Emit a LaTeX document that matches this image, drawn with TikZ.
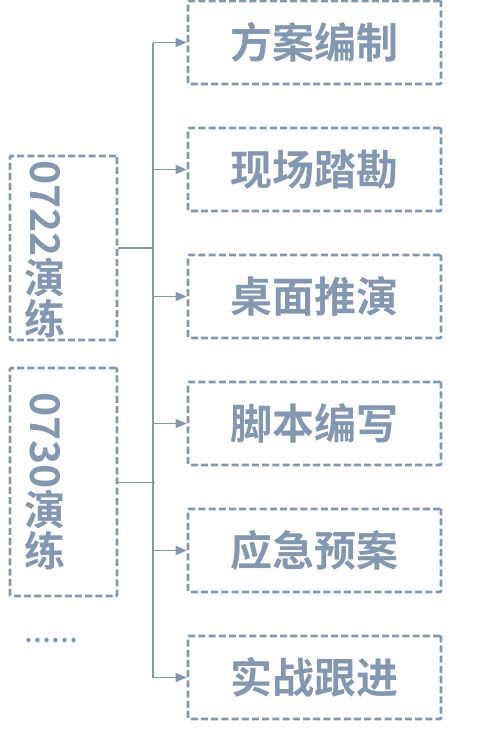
\documentclass[tikz,border=0pt]{standalone}
\usepackage{fontspec}
\newfontfamily\cjk{Noto Sans CJK SC}[BoldFont={Noto Sans CJK SC Bold}]
\usetikzlibrary{arrows.meta}
\definecolor{slate}{HTML}{8497B0}
\tikzset{
  dashbox/.style={draw=slate, line width=2.6pt, dash pattern=on 7pt off 3.2pt,
    rounded corners=1pt, inner sep=0pt},
  taskbox/.style={dashbox, minimum width=253pt, minimum height=83pt,
    text=slate, font=\cjk\bfseries\fontsize{42}{42}\selectfont},
  drillbox/.style={dashbox, minimum width=107pt},
  drilltext/.style={text=slate, align=center, inner sep=0pt,
    font=\cjk\bfseries\fontsize{41}{41}\selectfont},
  link/.style={draw=slate, line width=1.4pt},
  arrow/.style={link, -{Triangle[length=11pt,width=9pt]}}
}
\begin{document}
\begin{tikzpicture}[x=1pt,y=-1pt]
  \useasboundingbox (0,0) rectangle (489,732);
  % tasks on the right
  \foreach \name/\txt [count=\i] in {plan/方案编制, survey/现场踏勘,
      tabletop/桌面推演, script/脚本编写, emergency/应急预案, follow/实战跟进} {
    \node[taskbox] (\name) at (314.5,{42.5+127*(\i-1)}) {\txt};
    \coordinate (j\i) at (153,{42.5+127*(\i-1)});
    \draw[arrow] (j\i) -- (\name.west);
  }
  \draw[link] (j1) -- (j6);
  % drills on the left
  \node[drillbox, minimum height=184pt] (d0722) at (63.5,248) {};
  \node[drilltext] (t0722) at (45,249) {\rotatebox{-90}{0722}\\演\\练};
  \node[drillbox, minimum height=228pt] (d0730) at (63.5,482) {};
  \node[drilltext] (t0730) at (45,481) {\rotatebox{-90}{0730}\\演\\练};
  \node[text=slate, font=\cjk\bfseries\fontsize{24}{24}\selectfont] (more) at (51,641) {……};
  \draw[link, line width=2pt] (d0722.east) -- (d0722.east -| j1);
  \draw[link, line width=1pt] (d0730.east) -- ([xshift=2pt]d0730.east -| j1);
\end{tikzpicture}
\end{document}
